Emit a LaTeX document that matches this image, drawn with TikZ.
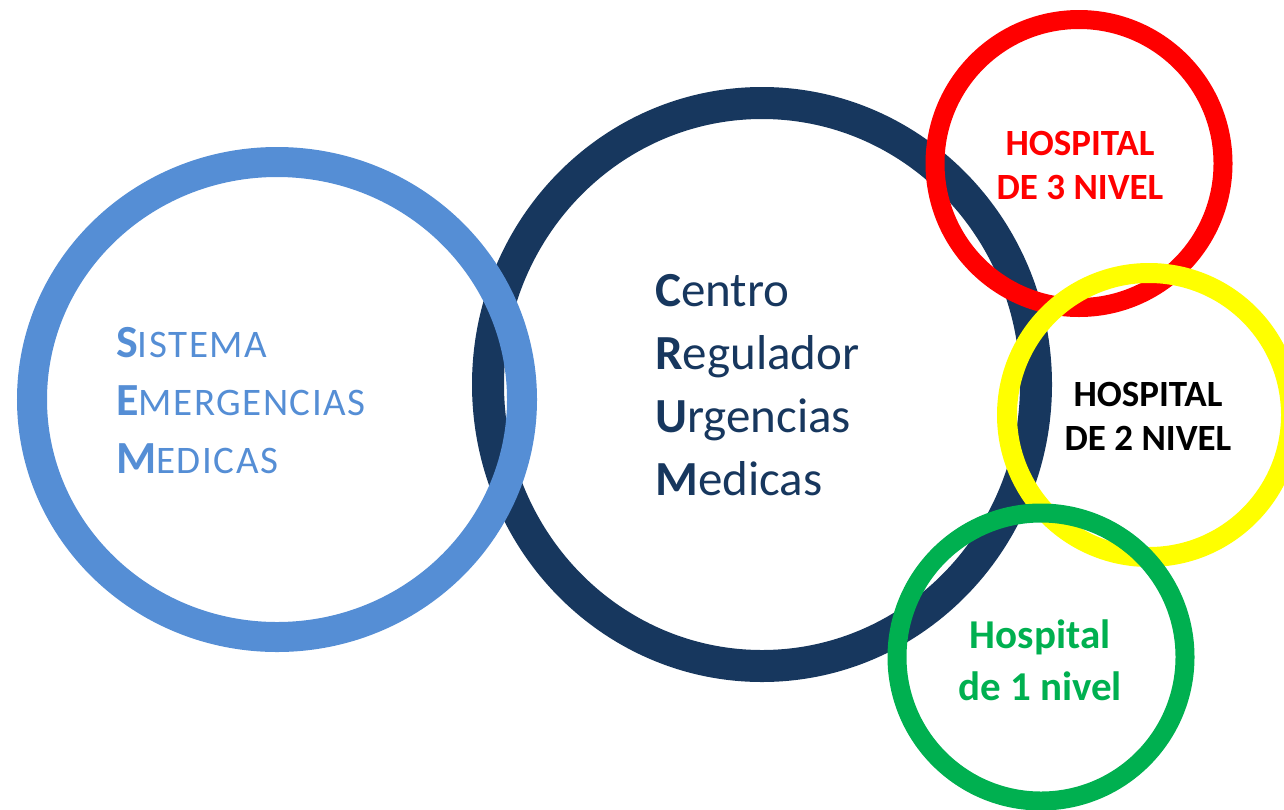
\documentclass[tikz,border=0pt]{standalone}
\usepackage{fontspec}
\setmainfont{Carlito}
\definecolor{semblue}{HTML}{558ED5}
\definecolor{crumnavy}{HTML}{17375E}
\definecolor{hred}{HTML}{FF0000}
\definecolor{hyellow}{HTML}{FFFF00}
\definecolor{hgreen}{HTML}{00B050}
\newcommand{\BigL}[1]{{\fontsize{46}{58}\selectfont\bfseries #1}}
\newcommand{\SmallC}[1]{{\addfontfeature{LetterSpace=4}#1}}
\newcommand{\BoldL}[1]{{\bfseries #1}}
\begin{document}
\begin{tikzpicture}[x=1pt,y=-1pt,
  ring/.style={line width=#1},
  hosp/.style={align=center, inner sep=0pt, font=\fontsize{37}{44}\selectfont\bfseries}]
\useasboundingbox (0,0) rectangle (1284,809);
% rings (drawing order matters for overlaps)
\draw[ring=32pt, crumnavy] (762,384.5) ellipse [x radius=274pt, y radius=281.5pt];
\draw[ring=30pt, semblue] (277,399.5) ellipse [x radius=245pt, y radius=237.5pt];
\draw[ring=19pt, hred] (1079,163.5) circle [radius=144pt];
\draw[ring=20pt, hyellow] (1149,415) circle [radius=142pt];
\draw[ring=19pt, hgreen] (1041,657) circle [radius=144pt];
% texts
\node[anchor=north west, inner sep=0pt, align=left, text=semblue,
      font=\fontsize{39}{58}\selectfont] (sem) at (116,327)
  {\BigL{S}\SmallC{ISTEMA}\\ \BigL{E}\SmallC{MERGENCIAS}\\ \BigL{M}\SmallC{EDICAS}};
\node[anchor=north west, inner sep=0pt, align=left, text=crumnavy,
      font=\fontsize{49}{63}\selectfont] (crum) at (655,274)
  {\BoldL{C}entro\\ \BoldL{R}egulador\\ \BoldL{U}rgencias\\ \BoldL{M}edicas};
\node[hosp, text=hred] (h3) at (1080,165) {HOSPITAL\\DE 3 NIVEL};
\node[hosp, text=black] (h2) at (1148,416) {HOSPITAL\\DE 2 NIVEL};
\node[hosp, text=hgreen, font=\fontsize{41}{52}\selectfont\bfseries] (h1) at (1040,660) {Hospital\\de 1 nivel};
\end{tikzpicture}
\end{document}
